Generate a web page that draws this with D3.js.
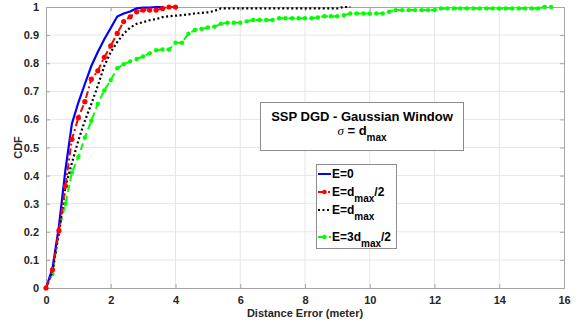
<!DOCTYPE html>
<html><head><meta charset="utf-8">
<script src="https://cdn.jsdelivr.net/npm/d3@7"></script>
<style>body{margin:0;background:#fff}svg{display:block}text{font-family:"Liberation Sans",Arial,sans-serif}</style>
</head><body><svg id="c" width="581" height="324"></svg>
<script>
const step = 0.2;
const blueY  = [0,0.07,0.22,0.42,0.585,0.66,0.726,0.79,0.84,0.885,0.925,0.966,0.977,0.984,0.995,0.998,0.998,1,1];
const redY   = [0,0.065,0.204,0.363,0.529,0.606,0.663,0.743,0.773,0.821,0.862,0.906,0.948,0.965,0.983,0.989,0.989,0.989,0.995,1,1];
const blackY = [0,0.06,0.195,0.36,0.445,0.525,0.595,0.655,0.72,0.79,0.84,0.875,0.905,0.927,0.94,0.946,0.953,0.957,0.964,0.967,0.969,0.971,0.974,0.977,0.979,0.981,0.986,0.995,0.995,0.995,0.995,0.995,0.995,0.995,0.995,0.995,0.995,0.995,0.995,0.995,0.995,0.995,0.995,0.995,0.995,0.995,1,1];
const greenY = [0,0.05,0.206,0.3,0.411,0.466,0.535,0.595,0.655,0.703,0.74,0.782,0.796,0.806,0.815,0.824,0.835,0.846,0.849,0.849,0.873,0.873,0.905,0.918,0.922,0.927,0.93,0.94,0.944,0.944,0.944,0.949,0.954,0.954,0.954,0.954,0.96,0.96,0.96,0.96,0.96,0.96,0.963,0.967,0.967,0.967,0.971,0.977,0.977,0.977,0.977,0.977,0.977,0.983,0.989,0.989,0.989,0.989,0.989,0.989,0.989,0.995,0.995,0.995,0.995,0.995,0.995,0.995,0.995,0.995,0.995,0.995,0.995,0.995,0.995,0.995,0.995,1,1];
const xTicks = [0,2,4,6,8,10,12,14,16];
const yTicks = [0,0.1,0.2,0.3,0.4,0.5,0.6,0.7,0.8,0.9,1];
const yTickLabels = ["0","0.1","0.2","0.3","0.4","0.5","0.6","0.7","0.8","0.9","1"];

const svg = d3.select("#c");
const L=46,R=564,T=7,B=288;
const x = d3.scaleLinear().domain([0,16]).range([L,R]);
const y = d3.scaleLinear().domain([0,1]).range([B,T]);
const toPts = arr => arr.map((v,i)=>[i*step,v]);
const axisCol="#a6a6a6", txtCol="#262626";

// grid
const g = svg.append("g");
g.selectAll(".gx").data(xTicks.slice(1,-1)).join("line").attr("x1",d=>x(d)).attr("x2",d=>x(d)).attr("y1",T).attr("y2",B).attr("stroke","#e6e6e6").attr("stroke-width",1);
g.selectAll(".gy").data(yTicks.slice(1,-1)).join("line").attr("y1",d=>y(d)).attr("y2",d=>y(d)).attr("x1",L).attr("x2",R).attr("stroke","#e6e6e6").attr("stroke-width",1);

// axes
const ax = d3.axisBottom(x).tickValues(xTicks).tickSize(-4).tickPadding(8).tickFormat(d3.format("d"));
const ay = d3.axisLeft(y).tickValues(yTicks).tickSize(-4).tickPadding(7).tickFormat((d,i)=>yTickLabels[i]);
const gx = svg.append("g").attr("transform",`translate(0,${B})`).call(ax);
const gy = svg.append("g").attr("transform",`translate(${L},0)`).call(ay);
const gx2 = svg.append("g").attr("transform",`translate(0,${T})`).call(d3.axisTop(x).tickValues(xTicks).tickSize(-4).tickFormat(""));
const gy2 = svg.append("g").attr("transform",`translate(${R},0)`).call(d3.axisRight(y).tickValues(yTicks).tickSize(-4).tickFormat(""));
[gx,gy,gx2,gy2].forEach(a=>{a.select(".domain").attr("stroke",axisCol).attr("stroke-width",1);a.selectAll(".tick line").attr("stroke",axisCol);
  a.selectAll("text").attr("fill",txtCol).style("font-size","11px").style("font-weight","bold").style("font-family","'Liberation Sans',Arial,sans-serif");});

// lines
const line = d3.line().x(d=>x(d[0])).y(d=>y(d[1]));
const gl = svg.append("g");
gl.append("path").datum(toPts(greenY)).attr("d",line).attr("fill","none").attr("stroke","#00ff00").attr("stroke-width",2).attr("stroke-dasharray","7,4");
gl.selectAll(".gm").data(toPts(greenY)).join("circle").attr("cx",d=>x(d[0])).attr("cy",d=>y(d[1])).attr("r",2.2).attr("fill","#00ff00");
gl.append("path").datum(toPts(blackY)).attr("d",line).attr("fill","none").attr("stroke","#000").attr("stroke-width",2.2).attr("stroke-dasharray","2,2.5");
gl.append("path").datum(toPts(blueY)).attr("d",line).attr("fill","none").attr("stroke","#0000ff").attr("stroke-width",2.2);
gl.append("path").datum(toPts(redY)).attr("d",line).attr("fill","none").attr("stroke","#ff0000").attr("stroke-width",2).attr("stroke-dasharray","7,3,2,3");
gl.selectAll(".rm").data(toPts(redY)).join("circle").attr("cx",d=>x(d[0])).attr("cy",d=>y(d[1])).attr("r",2.6).attr("fill","#ff0000");

// axis labels
svg.append("text").attr("x",(L+R)/2).attr("y",317).attr("text-anchor","middle").attr("fill",txtCol).style("font-size","11px").style("font-weight","bold").text("Distance Error (meter)");
svg.append("text").attr("transform",`translate(22,${(T+B)/2}) rotate(-90)`).attr("text-anchor","middle").attr("fill",txtCol).style("font-size","11px").style("font-weight","bold").text("CDF");

// title box
svg.append("rect").attr("x",260.5).attr("y",102.5).attr("width",203).attr("height",48).attr("fill","#fff").attr("stroke","#8c8c8c");
svg.append("text").attr("x",362).attr("y",121).attr("text-anchor","middle").attr("fill","#000").style("font-size","13px").style("font-weight","bold").text("SSP DGD - Gaussian Window");
const t2 = svg.append("text").attr("x",362).attr("y",135).attr("text-anchor","middle").attr("fill","#000").style("font-size","13px").style("font-weight","bold");
t2.append("tspan").style("font-family","'Liberation Serif',serif").style("font-style","italic").style("font-weight","normal").text("σ");
t2.append("tspan").text(" = d");
t2.append("tspan").attr("dy",6).style("font-size","10px").text("max");

// legend
svg.append("rect").attr("x",316.5).attr("y",164.5).attr("width",80).attr("height",84).attr("fill","#fff").attr("stroke","#8c8c8c");
const legend = [
  {c:"#0000ff",dash:null,marker:false,y:174,parts:[["E=0",0]]},
  {c:"#ff0000",dash:"7,3,2,3",marker:true,y:192,parts:[["E=d",0],["max",1],["/2",-1]]},
  {c:"#000",dash:"2,2.5",marker:false,y:210,parts:[["E=d",0],["max",1]]},
  {c:"#00ff00",dash:"7,4",marker:true,y:237,parts:[["E=3d",0],["max",1],["/2",-1]]}
];
legend.forEach(e=>{
  svg.append("line").attr("x1",318).attr("x2",331).attr("y1",e.y).attr("y2",e.y).attr("stroke",e.c).attr("stroke-width",2).attr("stroke-dasharray",e.dash);
  if(e.marker) svg.append("circle").attr("cx",324.5).attr("cy",e.y).attr("r",2.3).attr("fill",e.c);
  const t = svg.append("text").attr("x",332).attr("y",e.y+4).attr("fill","#000").style("font-size","12px").style("font-weight","bold");
  e.parts.forEach(p=>{const s=t.append("tspan").text(p[0]); if(p[1]===1){s.attr("dy",6).style("font-size","10px");} if(p[1]===-1){s.attr("dy",-6);} });
});
</script></body></html>
